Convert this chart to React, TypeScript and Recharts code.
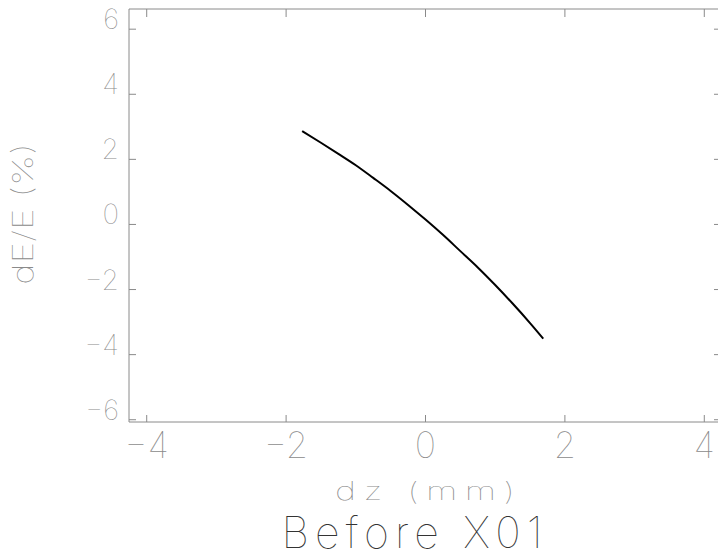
import React from 'react';
import { LineChart, Line, XAxis, YAxis } from 'recharts';

const dzValues = [-1.77, -1.5, -1.25, -1.0, -0.75, -0.5, -0.25, 0, 0.25, 0.5, 0.75, 1.0, 1.25, 1.5, 1.69];
const dEValues = [2.87, 2.51, 2.17, 1.82, 1.43, 1.03, 0.6, 0.15, -0.32, -0.82, -1.32, -1.86, -2.43, -3.03, -3.51];
const xTicks = [-4, -2, 0, 2, 4];
const yTicks = [-6, -4, -2, 0, 2, 4, 6];
const xDomain = [-4.254, 4.254];
const yDomain = [-6.07, 6.62];
const xTitle = 'dz (mm)';
const yTitle = 'dE/E (%)';
const caption = 'Before X01';

const data = dzValues.map((x, i) => ({ x, y: dEValues[i] }));

const FONT = 'Inter, "DejaVu Sans", sans-serif';
const AXIS = '#8a8a8a';
const LABEL = '#8a8a8a';

const fmt = (v: number) => (v < 0 ? '\u2212' + Math.abs(v) : String(v));

const XTick = (props: any) => {
  const { x, y, payload } = props;
  return (
    <text x={x} y={y} textAnchor="middle" fontFamily={FONT} fontWeight={100} fontSize={36} fill={LABEL}>
      {fmt(payload.value)}
    </text>
  );
};

const YTick = (props: any) => {
  const { x, y, payload } = props;
  return (
    <text x={x} y={y} textAnchor="end" fontFamily={FONT} fontWeight={100} fontSize={28} fill={LABEL}>
      {fmt(payload.value)}
    </text>
  );
};

const NoLabel = () => <g />;

export default function App() {
  return (
    <div style={{ position: 'absolute', left: 0, top: 0, width: 718, height: 556, overflow: 'hidden', background: '#fff' }}>
      <LineChart width={730} height={556} data={data} margin={{ top: 8, right: 7, bottom: 0, left: 0 }}>
        <XAxis
          dataKey="x"
          type="number"
          domain={xDomain}
          ticks={xTicks}
          allowDataOverflow
          height={134}
          tickSize={-7}
          tickMargin={43}
          stroke={AXIS}
          tick={<XTick />}
        />
        <XAxis
          xAxisId="top"
          dataKey="x"
          orientation="top"
          type="number"
          domain={xDomain}
          ticks={xTicks}
          allowDataOverflow
          height={1}
          tickSize={-8}
          stroke={AXIS}
          tick={<NoLabel />}
        />
        <YAxis
          type="number"
          domain={yDomain}
          ticks={yTicks}
          allowDataOverflow
          width={129}
          tickSize={-7}
          tickMargin={17}
          stroke={AXIS}
          tick={<YTick />}
        />
        <YAxis
          yAxisId="right"
          orientation="right"
          type="number"
          domain={yDomain}
          ticks={yTicks}
          allowDataOverflow
          width={1}
          tickSize={-8}
          stroke={AXIS}
          tick={<NoLabel />}
        />
        <Line
          dataKey="y"
          type="monotone"
          stroke="#000"
          strokeWidth={2}
          dot={false}
          isAnimationActive={false}
        />
      </LineChart>
      <svg width={718} height={556} style={{ position: 'absolute', left: 0, top: 0, pointerEvents: 'none' }}>
        <text transform="translate(425 500) scale(1.45 1)" x={0} y={0} textAnchor="middle" fontFamily={FONT} fontWeight={100} fontSize={25} fill={LABEL} textLength={124} lengthAdjust="spacing">
          {xTitle}
        </text>
        <text x={412} y={548} textAnchor="middle" fontFamily={FONT} fontWeight={100} fontSize={43} fill="#333" textLength={261} lengthAdjust="spacing">
          {caption}
        </text>
        <text transform="translate(33 214) rotate(-90) scale(1.3 1)" x={0} y={0} textAnchor="middle" fontFamily={FONT} fontWeight={100} fontSize={28} fill={LABEL} textLength={109} lengthAdjust="spacing">
          {yTitle}
        </text>
      </svg>
    </div>
  );
}
